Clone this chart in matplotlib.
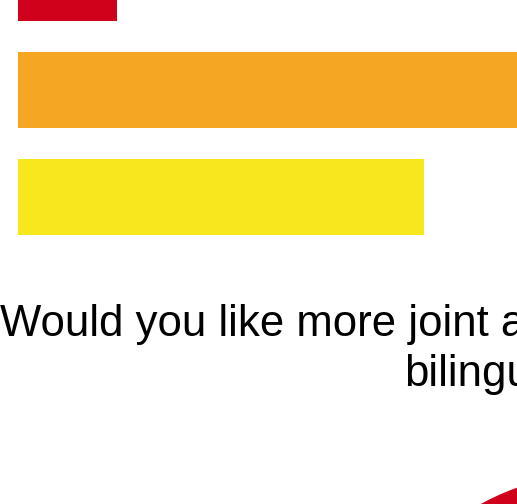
import matplotlib.pyplot as plt
from matplotlib.patches import Circle

# bar lengths (share, %) top to bottom
labels = ["Red", "Orange", "Yellow"]
values = [17, 90, 70]
colors = ["#D0021B", "#F5A623", "#F8E71C"]

W, H = 517, 504
fig = plt.figure(figsize=(W / 100, H / 100), dpi=100)

# bar panel: starts 18 px from the left edge, 5.8 px per percent
px_per_unit = 5.8
ax = fig.add_axes([18 / W, 0, 1 - 18 / W, 1])
ypos = list(range(len(values)))
ax.barh(ypos, values, height=76 / 107, color=colors)
ax.set_xlim(0, (W - 18) / px_per_unit)
ax.set_ylim(1 + 414 / 107, 1 - 90 / 107)
ax.axis("off")

# question text, runs past the right edge
font = dict(family=["Liberation Sans", "DejaVu Sans"], size=31.5, color="black")
fig.text(0, 1 - 336 / H, "Would you like more joint activities", ha="left", va="baseline", **font)
fig.text(404 / W, 1 - 386 / H, "bilingual", ha="left", va="baseline", **font)

# decorative disc in the bottom-right corner
disc_ax = fig.add_axes([0, 0, 1, 1], facecolor="none")
disc_ax.set_xlim(0, W)
disc_ax.set_ylim(H, 0)
disc_ax.add_patch(Circle((600, 720), 246, color="#D0021B"))
disc_ax.axis("off")

fig.savefig("out.png", dpi=100)
